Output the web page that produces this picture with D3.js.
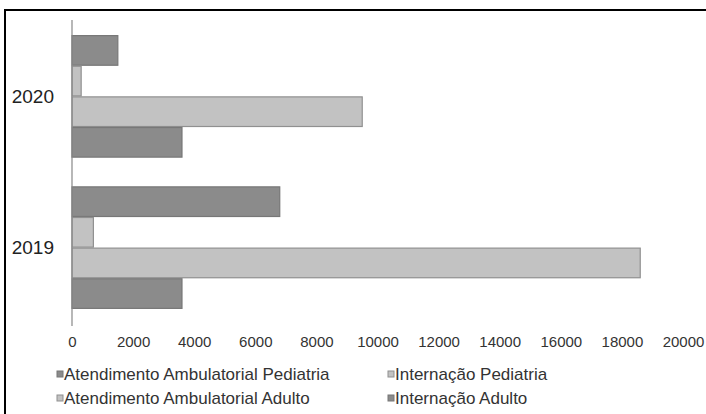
<!DOCTYPE html>
<html>
<head>
<meta charset="utf-8">
<script src="https://cdn.jsdelivr.net/npm/d3@7"></script>
<style>
  html, body { margin: 0; padding: 0; background: #fff; }
  svg { display: block; font-family: "Liberation Sans", Arial, sans-serif; }
</style>
</head>
<body>
<svg id="chart" width="706" height="414"></svg>
<script>
// Years shown on the category axis, top to bottom
const years = ["2020", "2019"];
// Series, in the order the bars stack inside each year (top to bottom)
const seriesNames = [
  "Atendimento Ambulatorial Pediatria",
  "Internação Pediatria",
  "Atendimento Ambulatorial Adulto",
  "Internação Adulto"
];
// Values per series, one entry per year (2020, 2019)
const ambPediatria = [1500, 6800];
const intPediatria = [300, 700];
const ambAdulto = [9500, 18600];
const intAdulto = [3600, 3600];
const xTicks = [0, 2000, 4000, 6000, 8000, 10000, 12000, 14000, 16000, 18000, 20000];
// Legend layout: two rows of two entries
const legendRows = [
  ["Atendimento Ambulatorial Pediatria", "Internação Pediatria"],
  ["Atendimento Ambulatorial Adulto", "Internação Adulto"]
];

const valuesBySeries = [ambPediatria, intPediatria, ambAdulto, intAdulto];
const fills = {
  "Atendimento Ambulatorial Pediatria": "#8b8b8b",
  "Internação Pediatria": "#c2c2c2",
  "Atendimento Ambulatorial Adulto": "#c2c2c2",
  "Internação Adulto": "#8b8b8b"
};
const strokes = {
  "Atendimento Ambulatorial Pediatria": "#777",
  "Internação Pediatria": "#909090",
  "Atendimento Ambulatorial Adulto": "#909090",
  "Internação Adulto": "#777"
};

const svg = d3.select("#chart");

// Outer frame (extends past the right and bottom edges)
svg.append("rect")
  .attr("x", 5).attr("y", 10)
  .attr("width", 720).attr("height", 430)
  .attr("fill", "#fff")
  .attr("stroke", "#000")
  .attr("stroke-width", 2);

const x = d3.scaleLinear().domain([0, 20000]).range([72, 683]);
const y = d3.scaleBand().domain(years).range([20, 324])
  .paddingInner(0.19).paddingOuter(0.1);
const ySub = d3.scaleBand().domain(seriesNames).range([0, y.bandwidth()]);

// Bars
const groups = svg.append("g").selectAll("g")
  .data(years)
  .join("g")
  .attr("transform", d => `translate(0,${y(d)})`);

groups.selectAll("rect")
  .data((yr, i) => seriesNames.map((s, k) => ({ s, v: valuesBySeries[k][i] })))
  .join("rect")
  .attr("x", x(0))
  .attr("y", d => ySub(d.s) + 0.5)
  .attr("width", d => x(d.v) - x(0))
  .attr("height", ySub.bandwidth() - 1)
  .attr("fill", d => fills[d.s])
  .attr("stroke", d => strokes[d.s])
  .attr("stroke-width", 1.2);

// Category axis line
svg.append("line")
  .attr("x1", x(0)).attr("x2", x(0))
  .attr("y1", 20).attr("y2", 326)
  .attr("stroke", "#888").attr("stroke-width", 1.2);

// Year labels
svg.append("g").selectAll("text")
  .data(years)
  .join("text")
  .attr("x", 54)
  .attr("y", d => y(d) + y.bandwidth() / 2)
  .attr("dy", "0.35em")
  .attr("text-anchor", "end")
  .attr("font-size", 19)
  .attr("fill", "#222")
  .text(d => d);

// Value axis labels
const xAxis = d3.axisBottom(x).tickValues(xTicks).tickSize(0).tickPadding(0)
  .tickFormat(d3.format("d"));
const gx = svg.append("g").attr("transform", "translate(0,336)").call(xAxis);
gx.select(".domain").remove();
gx.selectAll("text")
  .attr("font-size", 15)
  .attr("font-family", "\"Liberation Sans\", Arial, sans-serif")
  .attr("fill", "#333")
  .attr("dy", "0.71em");

// Legend
const colX = [57, 388];
const rowY = [374, 398];
legendRows.forEach((row, r) => {
  row.forEach((name, c) => {
    const g = svg.append("g").attr("transform", `translate(${colX[c]},${rowY[r]})`);
    g.append("rect")
      .attr("x", 0).attr("y", -3)
      .attr("width", 6).attr("height", 6)
      .attr("fill", fills[name])
      .attr("stroke", strokes[name])
      .attr("stroke-width", 1);
    g.append("text")
      .attr("x", 7).attr("y", 0)
      .attr("dy", "0.35em")
      .attr("font-size", 17)
      .attr("fill", "#333")
      .text(name);
  });
});
</script>
</body>
</html>
